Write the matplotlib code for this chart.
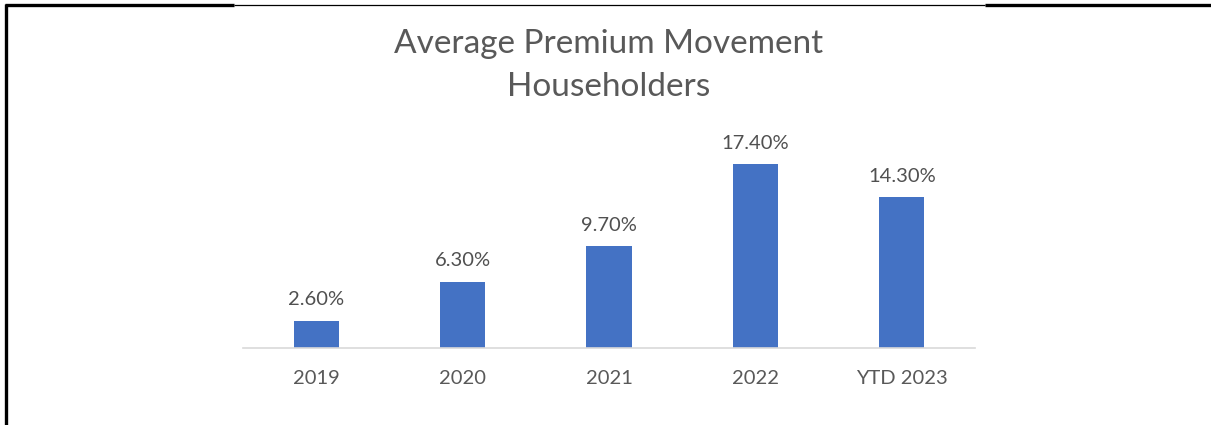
import matplotlib
matplotlib.use("Agg")
import matplotlib.pyplot as plt
from matplotlib.lines import Line2D

years = ["2019", "2020", "2021", "2022", "YTD 2023"]
movement = [2.6, 6.3, 9.7, 17.4, 14.3]
labels = ["2.60%", "6.30%", "9.70%", "17.40%", "14.30%"]

W, H = 1211, 425
plt.rcParams['font.family'] = ['Lato', 'DejaVu Sans']

fig = plt.figure(figsize=(W / 100, H / 100), dpi=100)

# plot area in pixel coords
left, right, base, top = 243, 975, 348, 137
ax = fig.add_axes([left / W, (H - base) / H, (right - left) / W, (base - top) / H])

x = range(len(years))
ax.bar(x, movement, width=0.31, color="#4472C4")
for i, v in enumerate(movement):
    ax.text(i, v + 1.15, labels[i], ha="center", va="bottom", fontsize=14.5, color="#505050")

ax.set_xlim(-0.5, 4.5)
ax.set_ylim(0, 20)
ax.set_xticks(list(x))
ax.set_xticklabels(years, fontsize=14.5, color="#595959")
ax.tick_params(axis="x", length=0, pad=16)
ax.set_yticks([])
for s in ["top", "right", "left"]:
    ax.spines[s].set_visible(False)
ax.spines["bottom"].set_color("#D9D9D9")
ax.spines["bottom"].set_linewidth(1.2)
ax.patch.set_visible(False)

fig.text(609 / W, 1 - 44 / H, "Average Premium Movement", ha="center", va="center",
         fontsize=24, color="#595959")
fig.text(609 / W, 1 - 87 / H, "Householders", ha="center", va="center",
         fontsize=24, color="#595959")

# frame lines around the screenshot
def px_line(x0, y0, x1, y1, lw):
    fig.add_artist(Line2D([x0 / W, x1 / W], [1 - y0 / H, 1 - y1 / H],
                          transform=fig.transFigure, color="black", linewidth=lw,
                          solid_capstyle="butt"))

px_line(5, 5, 234, 5, 2.4)
px_line(234, 5, 985, 5, 0.9)
px_line(985, 5, W, 5, 2.4)
px_line(6, 4, 6, H, 2.4)

fig.savefig("out.png", dpi=100)
